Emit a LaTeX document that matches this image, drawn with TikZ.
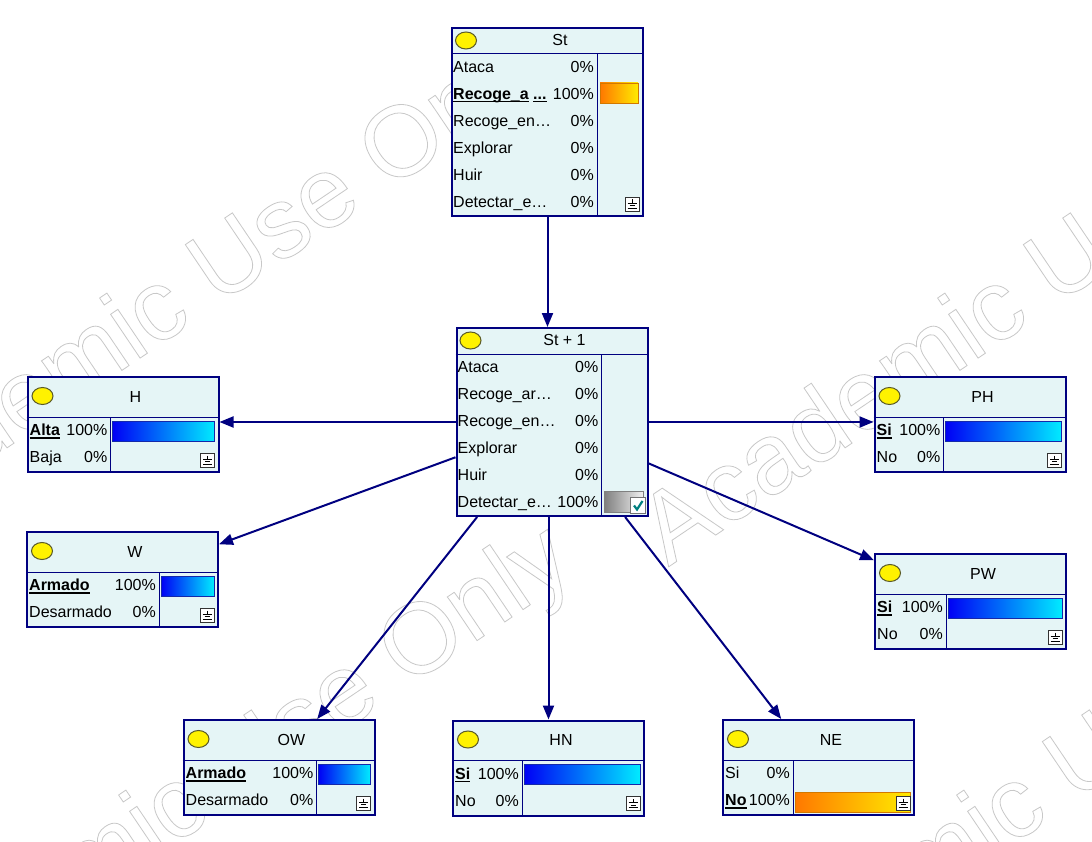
\documentclass[tikz,border=0pt]{standalone}
\usepackage{fontspec}
\setmainfont{Liberation Sans}
\usetikzlibrary{arrows.meta}
\definecolor{navy}{RGB}{0,0,128}
\definecolor{boxfill}{RGB}{229,245,246}
\definecolor{bulbedge}{RGB}{90,90,40}
\definecolor{wmgray}{RGB}{200,200,200}
\definecolor{checkteal}{RGB}{0,128,128}
\definecolor{orangeL}{RGB}{255,120,0}
\definecolor{orangeR}{RGB}{255,235,0}
\definecolor{orangeE}{RGB}{210,120,0}
\definecolor{blueL}{RGB}{0,0,245}
\definecolor{blueR}{RGB}{0,235,255}
\definecolor{blueE}{RGB}{20,40,170}
\newcommand\ul[1]{\setbox0=\hbox{#1}\rlap{\rule[-3pt]{\wd0}{1.4pt}}\box0}
\newcommand\wmtext{\special{pdf:literal direct 1 Tr 0.8 w}Academic Use Only\special{pdf:literal direct 0 Tr}}
\newcommand\gicon[2]{%
  \draw[iconbox] (#1,#2) rectangle ++(14,14);
  \draw[line width=0.9pt] (#1+7,#2+2.5) -- (#1+7,#2+6)
    (#1+2.5,#2+6) -- (#1+11.5,#2+6)
    (#1+4.5,#2+8.5) -- (#1+9.5,#2+8.5)
    (#1+2.5,#2+11) -- (#1+11.5,#2+11);}
% small node internals: #1 name, #2 separator offset, #3 title, #4 label1, #5 pct1, #6 label2, #7 pct2
\newcommand\smallinside[7]{%
  \begin{scope}[shift={(#1.north west)}]
    \draw[sepline] (0,41) -- (191,41) (#2,41) -- (#2,95);
    \draw[bulb] (16,20) ellipse [x radius=10.5, y radius=8.5];
    \node[ttl] at (109,26) {#3};
    \node[lbl] at (3,59.5) {#4};
    \node[pct] at (#2-3,59.5) {#5};
    \node[lbl] at (3,86.5) {#6};
    \node[pct] at (#2-3,86.5) {#7};
  \end{scope}}
\newcommand\barrow[4]{% #1 name, #2 sep, #3 row (0/1), #4 style
  \begin{scope}[shift={(#1.north west)}]
    \draw[#4] (#2+2,45+28*#3) rectangle (188,65+28*#3);
    \gicon{174}{77}
  \end{scope}}
\tikzset{
  net/.style={draw=navy, line width=2pt, fill=boxfill, minimum width=191pt, inner sep=0pt, outer sep=1pt},
  bignet/.style={net, minimum height=188pt},
  smallnet/.style={net, minimum height=95pt},
  sepline/.style={draw=navy, line width=1pt},
  bulb/.style={draw=bulbedge, fill=yellow, line width=1pt},
  ttl/.style={anchor=base, inner sep=0pt, font=\fontsize{16}{19}\selectfont},
  lbl/.style={anchor=base west, inner sep=0pt, font=\fontsize{16}{19}\selectfont},
  pct/.style={anchor=base east, inner sep=0pt, font=\fontsize{16}{19}\selectfont},
  bluebar/.style={draw=blueE, line width=0.8pt, left color=blueL, right color=blueR},
  orangebar/.style={draw=orangeE, line width=0.8pt, left color=orangeL, right color=orangeR},
  graybar/.style={draw=gray, line width=0.8pt, left color=black!50, right color=black!5},
  edge/.style={draw=navy, line width=2pt, -{Triangle[length=14pt,width=11pt]}},
  iconbox/.style={draw=black!80, fill=white, line width=0.8pt},
  wm/.style={rotate=34, inner sep=0pt, text=wmgray, font=\fontsize{100}{100}\selectfont},
}
\begin{document}
\begin{tikzpicture}[x=1pt,y=-1pt]
\fill[white] (0,0) rectangle (1092,842);
\useasboundingbox (0,0) rectangle (1092,842);
% watermark
\begin{scope}
  \clip (0,0) rectangle (1092,842);
  \node[wm] (wm1) at (180,300) {\wmtext};
  \node[wm] (wm2) at (1018,300) {\wmtext};
  \node[wm] (wm3) at (199,797) {\wmtext};
  \node[wm] (wm4) at (1037,797) {\wmtext};
\end{scope}
% nodes
\node[bignet] (St) at (547.5,122) {};
\node[bignet] (St1) at (552,422) {};
\node[smallnet] (H) at (123,424.5) {};
\node[smallnet] (PH) at (970,424.5) {};
\node[smallnet] (W) at (122.5,579.5) {};
\node[smallnet] (PW) at (970.5,601.5) {};
\node[smallnet] (OW) at (279,767.5) {};
\node[smallnet] (HN) at (548.5,768) {};
\node[smallnet] (NE) at (818.5,767.5) {};
% St internals
\begin{scope}[shift={(St.north west)}]
  \draw[sepline] (0,27) -- (191,27) (146,27) -- (146,188);
  \draw[bulb] (15,13.5) ellipse [x radius=10.5, y radius=8.5];
  \node[ttl] at (109,18.5) {St};
  \node[lbl] at (2,45.5) {Ataca};            \node[pct] at (143,45.5) {0\%};
  \node[lbl] at (2,72.5) {\bfseries\ul{Recoge\_a}\ \ul{...}}; \node[pct] at (143,72.5) {100\%};
  \node[lbl] at (2,99.5) {Recoge\_en…};      \node[pct] at (143,99.5) {0\%};
  \node[lbl] at (2,126.5) {Explorar};        \node[pct] at (143,126.5) {0\%};
  \node[lbl] at (2,153.5) {Huir};            \node[pct] at (143,153.5) {0\%};
  \node[lbl] at (2,180.5) {Detectar\_e…};    \node[pct] at (143,180.5) {0\%};
  \draw[orangebar] (149,56) rectangle (187,76);
  \gicon{174}{170}
\end{scope}
% St+1 internals
\begin{scope}[shift={(St1.north west)}]
  \draw[sepline] (0,27) -- (191,27) (146,27) -- (146,188);
  \draw[bulb] (15,13.5) ellipse [x radius=10.5, y radius=8.5];
  \node[ttl] at (109,18.5) {St + 1};
  \node[lbl] at (2,45.5) {Ataca};            \node[pct] at (143,45.5) {0\%};
  \node[lbl] at (2,72.5) {Recoge\_ar…};      \node[pct] at (143,72.5) {0\%};
  \node[lbl] at (2,99.5) {Recoge\_en…};      \node[pct] at (143,99.5) {0\%};
  \node[lbl] at (2,126.5) {Explorar};        \node[pct] at (143,126.5) {0\%};
  \node[lbl] at (2,153.5) {Huir};            \node[pct] at (143,153.5) {0\%};
  \node[lbl] at (2,180.5) {Detectar\_e…};    \node[pct] at (143,180.5) {100\%};
  \draw[graybar] (149,164) rectangle (188,185);
  \draw[iconbox, draw=black!55] (175,170) rectangle (190,186);
  \draw[checkteal, line width=2.2pt] (178.5,178.5) -- (181.5,182.5) -- (187,174);
\end{scope}
% small nodes internals
\smallinside{H}{84}{H}{\bfseries\ul{Alta}}{100\%}{Baja}{0\%}
\barrow{H}{84}{0}{bluebar}
\smallinside{PH}{70}{PH}{\bfseries\ul{Si}}{100\%}{No}{0\%}
\barrow{PH}{70}{0}{bluebar}
\smallinside{W}{133}{W}{\bfseries\ul{Armado}}{100\%}{Desarmado}{0\%}
\barrow{W}{133}{0}{bluebar}
\smallinside{PW}{72}{PW}{\bfseries\ul{Si}}{100\%}{No}{0\%}
\barrow{PW}{72}{0}{bluebar}
\smallinside{OW}{134}{OW}{\bfseries\ul{Armado}}{100\%}{Desarmado}{0\%}
\barrow{OW}{134}{0}{bluebar}
\smallinside{HN}{70}{HN}{\bfseries\ul{Si}}{100\%}{No}{0\%}
\barrow{HN}{70}{0}{bluebar}
\smallinside{NE}{71}{NE}{Si}{0\%}{\bfseries\ul{No}}{100\%}
\barrow{NE}{71}{1}{orangebar}
% connectors
\draw[edge] (St.south) -- (St.south |- St1.north);
\draw[edge] (St1.west) -- (St1.west -| H.east);
\draw[edge] (St1.east) -- (St1.east -| PH.west);
\draw[edge] (St1) -- (W);
\draw[edge] (St1) -- (PW);
\draw[edge] (St1) -- (OW);
\draw[edge] (HN.north |- St1.south) -- (HN.north);
\draw[edge] (St1) -- (NE);
\end{tikzpicture}
\end{document}
